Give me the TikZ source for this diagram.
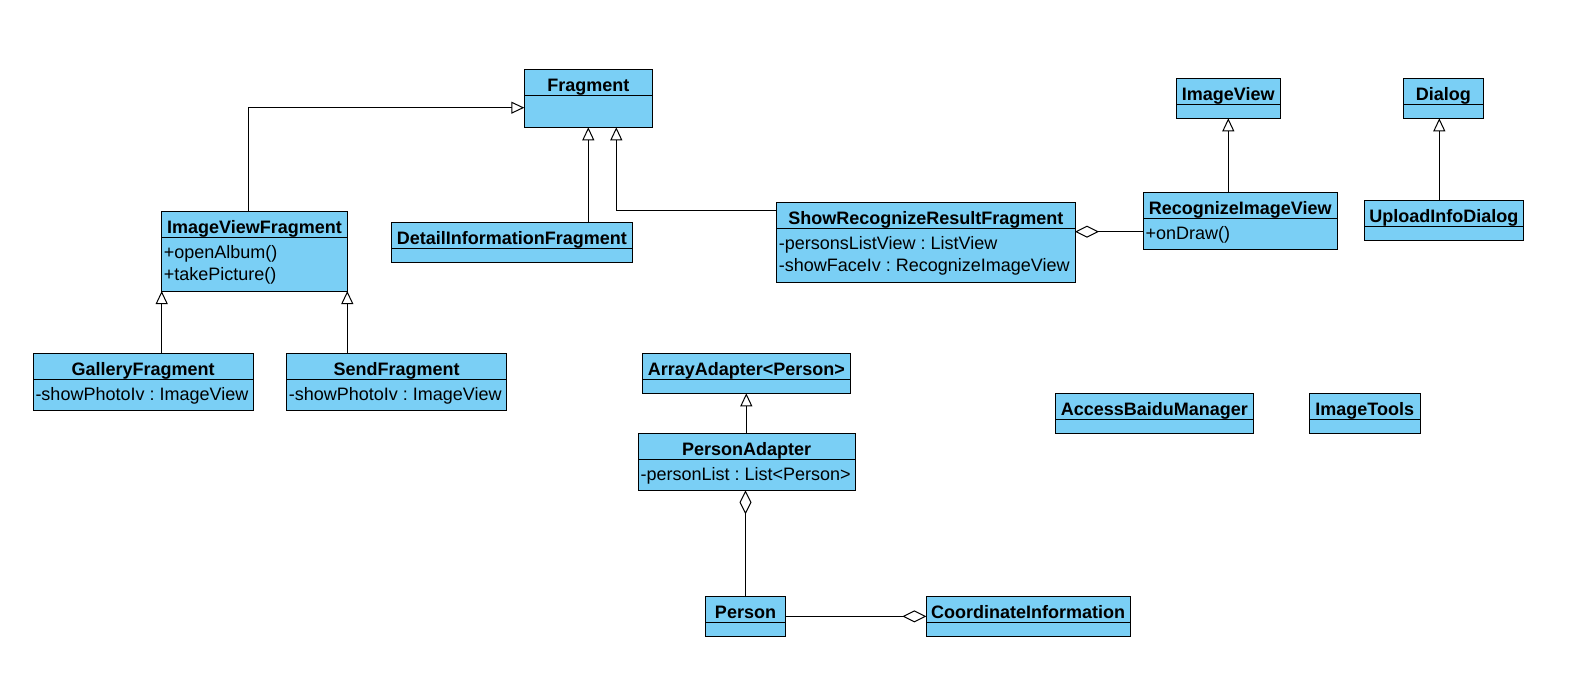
\documentclass[tikz,border=0pt]{standalone}
\usepackage{fontspec}
\setmainfont{Liberation Sans}
\usetikzlibrary{arrows.meta,calc}
\definecolor{classfill}{RGB}{122,207,245}
\frenchspacing
\tikzset{
  classbox/.style={draw=black, line width=1pt, fill=classfill, rectangle, inner sep=0pt, outer sep=0pt},
  divline/.style={draw=black, line width=1pt},
  titletext/.style={anchor=base, inner sep=0pt, font=\fontsize{18}{22}\selectfont\bfseries\frenchspacing},
  attrtext/.style={anchor=base west, inner sep=0pt, font=\fontsize{18}{22}\selectfont\frenchspacing},
  gen/.style={draw=black, line width=1.1pt, -{Triangle[length=13pt, width=12pt, fill=white, line width=1pt]}},
  aggstart/.style={draw=black, line width=1.1pt, {Diamond[length=24pt, width=12pt, fill=white, line width=1pt]}-},
  aggend/.style={draw=black, line width=1.1pt, -{Diamond[length=24pt, width=12pt, fill=white, line width=1pt]}},
}
\newcommand\umlbox[6]{%
  \node[classbox, minimum width=#4pt, minimum height=#5pt, anchor=north west] (#1) at (#2,#3) {};
  \draw[divline] ($(#1.north west)+(0,26)$) -- ($(#1.north east)+(0,26)$);
  \node[titletext] at ($(#1.north)+(0,22)$) {#6};
}
\newcommand\umlattr[3]{%
  \node[attrtext] at ($(#1.north west)+(2,#2)$) {#3};
}
\begin{document}
\begin{tikzpicture}[x=1pt,y=-1pt]
\useasboundingbox (0,0) rectangle (1572,682);

\umlbox{frag}{524.3}{69.3}{128}{58}{Fragment}
\umlbox{ivf}{161.7}{211.7}{185.6}{79.3}{ImageViewFragment}
\umlattr{ivf}{47}{+openAlbum()}
\umlattr{ivf}{69}{+takePicture()}
\umlbox{dif}{391.3}{222.7}{241}{39.3}{DetailInformationFragment}
\umlbox{srrf}{776.7}{202}{298.3}{80}{ShowRecognizeResultFragment}
\umlattr{srrf}{47}{-personsListView : ListView}
\umlattr{srrf}{69}{-showFaceIv : RecognizeImageView}
\umlbox{riv}{1143.3}{192.7}{194}{56.6}{RecognizeImageView}
\umlattr{riv}{47}{+onDraw()}
\umlbox{iv}{1176.3}{78.3}{104}{40}{ImageView}
\umlbox{dlg}{1403.3}{78.3}{80}{40}{Dialog}
\umlbox{uid}{1364.3}{200.7}{159}{39.6}{UploadInfoDialog}
\umlbox{gal}{33.3}{353.3}{219.7}{57.4}{GalleryFragment}
\umlattr{gal}{47}{-showPhotoIv : ImageView}
\umlbox{send}{286.7}{353.3}{220}{57.4}{SendFragment}
\umlattr{send}{47}{-showPhotoIv : ImageView}
\umlbox{aa}{642.3}{353.3}{208}{40}{ArrayAdapter<Person>}
\umlbox{pa}{638.3}{433.7}{216.7}{56.6}{PersonAdapter}
\umlattr{pa}{47}{-personList : List<Person>}
\umlbox{abm}{1055.3}{393.3}{198}{40}{AccessBaiduManager}
\umlbox{it}{1309.3}{393.3}{110.7}{40}{ImageTools}
\umlbox{person}{705.7}{596.7}{79.6}{39.3}{Person}
\umlbox{ci}{926.3}{596.7}{203.7}{39.3}{CoordinateInformation}

% generalizations
\draw[gen] ($(ivf.north west)+(87,0)$) |- ($(frag.north west)+(0,38.4)$);
\draw[gen] (dif.north -| frag.south) -- (frag.south);
\draw[gen] ($(srrf.north west)+(0,8.3)$) -| ($(frag.south)+(28,0)$);
\draw[gen] (gal.north -| ivf.south west) -- (ivf.south west);
\draw[gen] (send.north -| ivf.south east) -- (ivf.south east);
\draw[gen] (riv.north -| iv.south) -- (iv.south);
\draw[gen] ($(uid.north)+(-4.5,0)$) -- ($(dlg.south)+(-4,0)$);
\draw[gen] (pa.north -| aa.south) -- (aa.south);

% aggregations
\coordinate (rivp) at ($(riv.north west)+(0,39)$);
\draw[aggstart] (srrf.east |- rivp) -- (rivp);
\draw[aggstart] (pa.south -| person.north) -- (person.north);
\draw[aggend] (person.east) -- (ci.west);
\end{tikzpicture}
\end{document}
